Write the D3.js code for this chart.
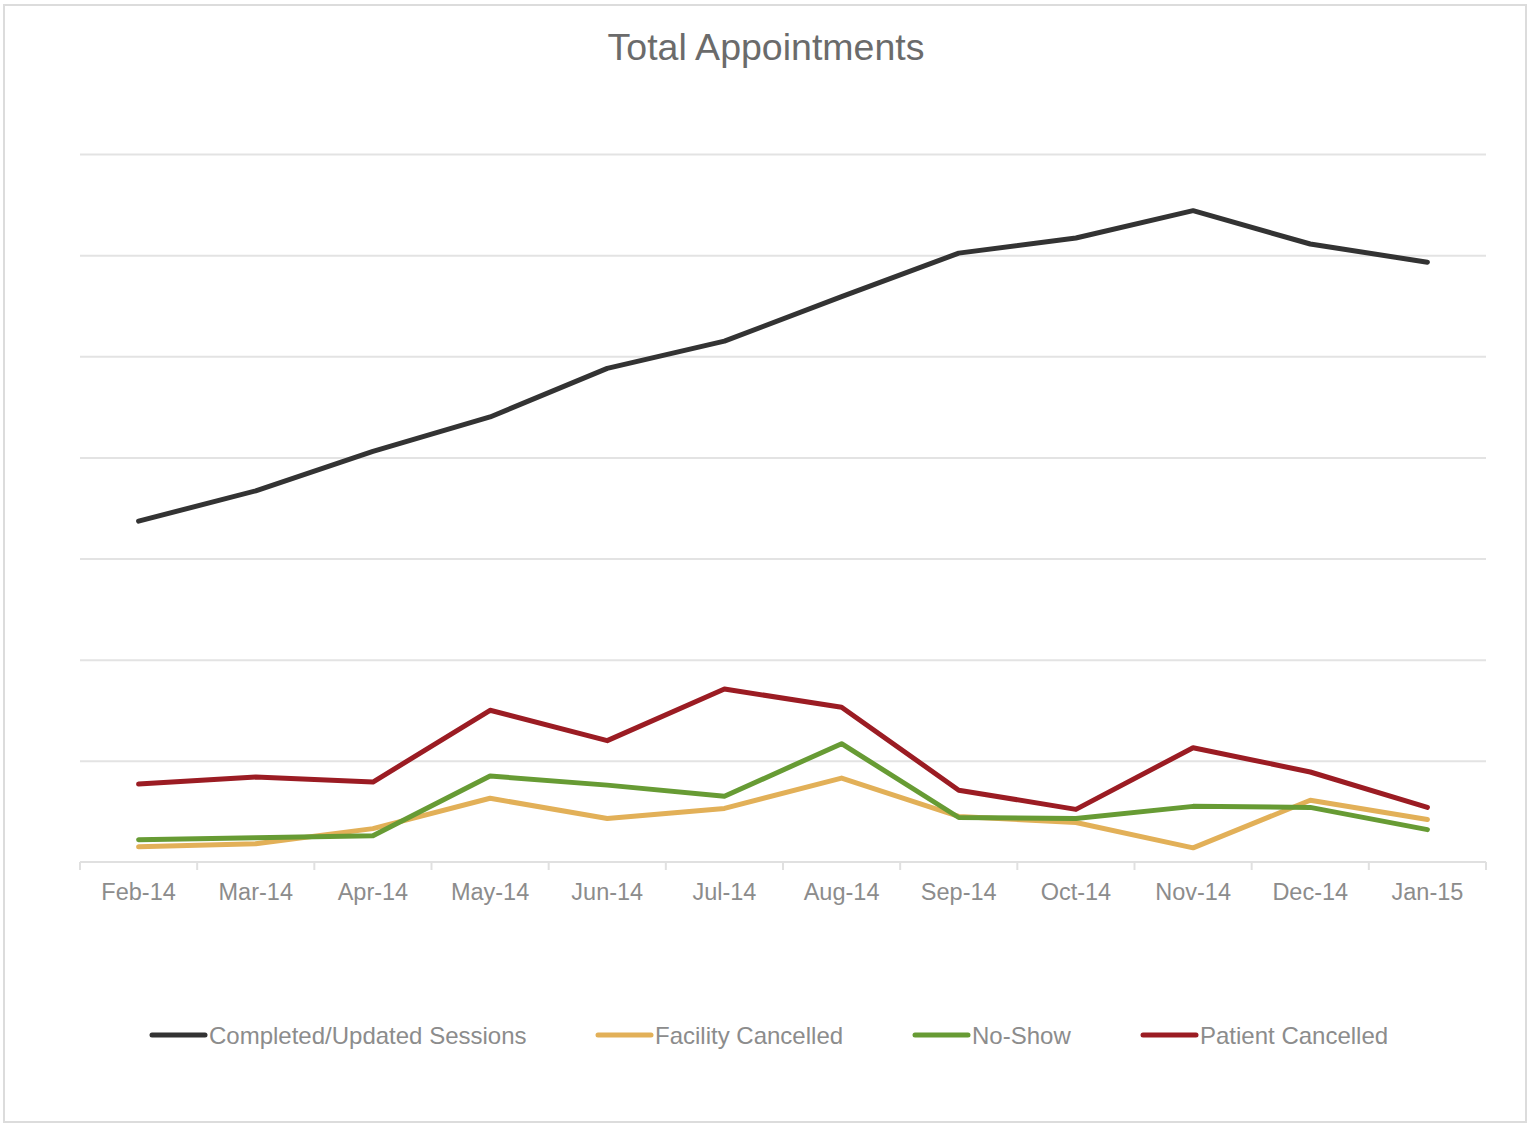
<!DOCTYPE html>
<meta charset="utf-8">
<style>
body { margin: 0; background: #fff; font-family: "Liberation Sans", Arial, sans-serif; }
svg { display: block; }
.grid line { stroke: #e3e3e3; stroke-width: 2px; }
.grid path { stroke: none; }
.axis path, .axis line { stroke: #e0e0e0; stroke-width: 2px; }
.axis text { fill: #8c8c8c; font-size: 23.5px; font-family: "Liberation Sans", Arial, sans-serif; }
.legend-name { fill: #8c8c8c; font-size: 24px; }
</style>
<body>
<script src="https://d3js.org/d3.v7.min.js"></script>
<script>
// data
var months = ["Feb-14","Mar-14","Apr-14","May-14","Jun-14","Jul-14","Aug-14","Sep-14","Oct-14","Nov-14","Dec-14","Jan-15"];
var completed = [337, 367, 406, 440, 488, 515, 559, 602, 617, 644, 611, 593];
var facility  = [15, 18, 33, 63, 43, 53, 83, 45, 39, 14, 61, 42];
var noShow    = [22, 24, 26, 85, 76, 65, 117, 44, 43, 55, 54, 32];
var patient   = [77, 84, 79, 150, 120, 171, 153, 71, 52, 113, 89, 54];
var seriesNames  = ["Completed/Updated Sessions", "Facility Cancelled", "No-Show", "Patient Cancelled"];
var seriesColors = ["#333333", "#e2b058", "#679b34", "#9b1c23"];
var yTicks = [0, 100, 200, 300, 400, 500, 600, 700];

var W = 1528, H = 1124;
var margin = {top: 154, right: 42, bottom: 262, left: 80};
var width = W - margin.left - margin.right,
    height = H - margin.top - margin.bottom;

var svgRoot = d3.select("body").append("svg")
    .attr("width", W)
    .attr("height", H);

// outer frame
svgRoot.append("rect")
    .attr("x", 4).attr("y", 5)
    .attr("width", W - 6).attr("height", H - 7)
    .attr("fill", "#fff")
    .attr("stroke", "#dcdcdc")
    .attr("stroke-width", 2);

svgRoot.append("text")
    .attr("x", 766).attr("y", 60)
    .attr("text-anchor", "middle")
    .style("font-size", "37.5px")
    .style("fill", "#6b6b6b")
    .text("Total Appointments");

var svg = svgRoot.append("g")
    .attr("transform", "translate(" + margin.left + "," + margin.top + ")");

var x = d3.scaleBand().domain(months).range([0, width]);
var y = d3.scaleLinear().domain([0, 700]).range([height, 0]);

// gridlines
svg.append("g")
    .attr("class", "grid")
    .call(d3.axisLeft(y).tickValues(yTicks.slice(1)).tickSize(-width).tickFormat(""))
    .call(g => g.select(".domain").remove());

// x axis with boundary ticks
var xAxis = svg.append("g")
    .attr("class", "axis")
    .attr("transform", "translate(0," + height + ")")
    .call(d3.axisBottom(x).tickSize(0).tickPadding(21));
xAxis.select(".domain").attr("d", "M0,0H" + width);
xAxis.selectAll(".bound")
    .data(d3.range(months.length + 1))
    .enter().append("line")
    .attr("x1", i => i * x.step()).attr("x2", i => i * x.step())
    .attr("y1", 0).attr("y2", 8)
    .attr("stroke", "#e0e0e0").attr("stroke-width", 2);

var allSeries = [completed, facility, noShow, patient];
var line = d3.line()
    .x((d, i) => x(months[i]) + x.bandwidth() / 2)
    .y(d => y(d));

svg.selectAll(".series")
    .data(allSeries)
    .enter().append("path")
    .attr("class", "series")
    .attr("fill", "none")
    .attr("stroke", (d, i) => seriesColors[i])
    .attr("stroke-width", 5)
    .attr("stroke-linejoin", "round")
    .attr("stroke-linecap", "round")
    .attr("d", line);

// legend
var legendX = [152, 598, 915, 1143];
var legend = svgRoot.selectAll(".legend")
    .data(seriesNames)
    .enter().append("g")
    .attr("transform", (d, i) => "translate(" + legendX[i] + ",1035)");
legend.append("line")
    .attr("x1", 0).attr("x2", 53)
    .attr("stroke", (d, i) => seriesColors[i])
    .attr("stroke-width", 5)
    .attr("stroke-linecap", "round");
legend.append("text")
    .attr("class", "legend-name")
    .attr("x", 57).attr("y", 8.5)
    .text(d => d);
</script>
</body>
